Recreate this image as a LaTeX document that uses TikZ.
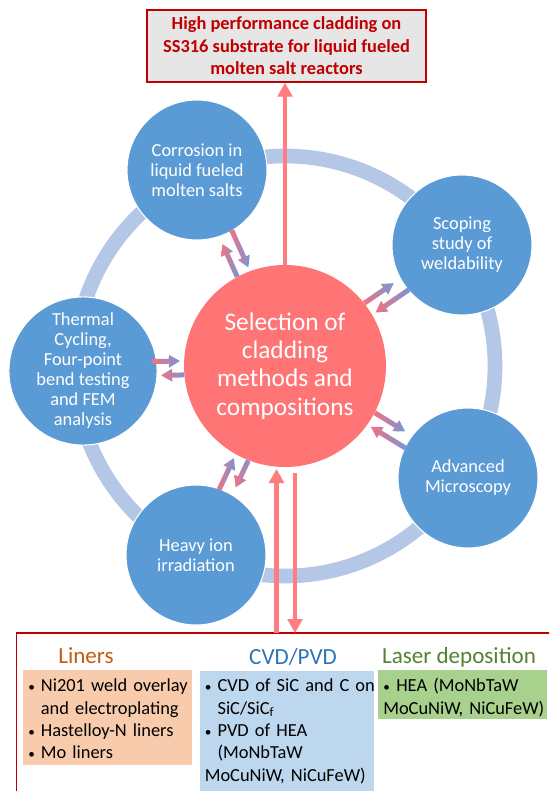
\documentclass[tikz,border=0pt]{standalone}
\usepackage{fontspec}
\usepackage{graphicx}
\setmainfont{Carlito}
\usetikzlibrary{arrows.meta,calc}
\definecolor{cred}{RGB}{255,117,117}
\definecolor{cblue}{RGB}{91,155,213}
\definecolor{cring}{RGB}{180,199,231}
\definecolor{carr}{RGB}{255,124,128}
\definecolor{apink}{RGB}{242,114,130}
\definecolor{ablue}{RGB}{118,150,216}
\definecolor{dred}{RGB}{192,0,0}
\definecolor{tgray}{RGB}{231,230,230}
\definecolor{borange}{RGB}{248,203,173}
\definecolor{bblue}{RGB}{189,215,238}
\definecolor{bgreen}{RGB}{169,209,142}
\definecolor{torange}{RGB}{197,90,17}
\definecolor{tblue}{RGB}{46,117,182}
\definecolor{tgreen}{RGB}{84,130,53}
\newcommand\bul[1]{\makebox[#1][l]{\raisebox{0.05ex}{\scalebox{0.72}{•}}}}
\tikzset{
  bluenode/.style={circle, fill=cblue, draw=white, line width=0.8pt, minimum size=105pt,
    inner sep=0pt, align=center, text=white, font={\fontsize{13.8}{15}\selectfont}},
  rednode/.style={circle, fill=cred, minimum size=151.5pt, inner sep=0pt, align=center,
    text=white, font={\fontsize{19}{21.3}\selectfont}},
  ringline/.style={cring, line width=11pt},
  vconn/.style={carr, line width=3.6pt, -{Triangle[length=10.5pt,width=11pt]}},
  gradarr/.style={left color=apink, right color=ablue, draw=none},
  topbox/.style={draw=dred, fill=tgray, line width=1.1pt, minimum width=209pt, minimum height=54pt,
    inner sep=0pt, text=dred, align=center, font={\bfseries\fontsize{13.8}{16.9}\selectfont}},
  panelline/.style={draw=dred, line width=1.1pt},
  boxtext/.style={anchor=base west, inner sep=0pt, align=left, text width=150pt,
    font={\fontsize{13.8}{16.8}\selectfont}},
  header/.style={anchor=base, inner sep=0pt, font={\fontsize{17.3}{20}\selectfont}}
}
\newcommand\twoarrows[2]{%
  \begin{scope}[shift={(sel.center)}, rotate=#1]
    \shade[gradarr] (101,4.5) -- ({#2-89},4.5) -- ({#2-89},0.5) -- ({#2-78},7) -- ({#2-89},13.5) -- ({#2-89},9.5) -- (101,9.5) -- cycle;
    \shade[gradarr] ({#2-69},-4.5) -- (116,-4.5) -- (116,-0.5) -- (105,-7) -- (116,-13.5) -- (116,-9.5) -- ({#2-69},-9.5) -- cycle;
  \end{scope}}
\begin{document}
\begin{tikzpicture}[x=0.75pt,y=0.75pt]
\useasboundingbox (0,0) rectangle (549,-791);
\clip (0,0) rectangle (549,-791);
\fill[white] (0,0) rectangle (549,-791);

% ring
\coordinate (rc) at (285,-366);
\draw[ringline] (rc) circle (210);

% satellite circles
\node[bluenode] (corr) at (197,-170) {Corrosion in\\liquid fueled\\molten salts};
\node[bluenode] (scop) at (462,-245) {Scoping\\study of\\weldability};
\node[bluenode] (therm) at (83,-371) {Thermal\\Cycling,\\Four-point\\bend testing\\and FEM\\analysis};
\node[bluenode] (adv) at (468,-478) {Advanced\\Microscopy};
\node[bluenode] (heavy) at (196,-555) {Heavy ion\\irradiation};

% centre
\node[rednode] (sel) at (285,-366) {Selection of\\cladding\\methods and\\compositions};

% arrow pairs
\twoarrows{114.2}{214.8}
\twoarrows{34.4}{214.4}
\twoarrows{181.1}{202}
\twoarrows{-31.5}{214.6}
\twoarrows{-115.2}{208.9}

% top goal
\node[topbox] (goal) at (286.5,-46) {High performance cladding on\\SS316 substrate for liquid fueled\\molten salt reactors};
\draw[vconn] (sel.north) -- (sel.north |- goal.south);

% bottom panel
\draw[panelline] (16.5,-830) -- (16.5,-633) -- (600,-633);
\coordinate (u1) at (276.5,-633);
\coordinate (u2) at (276.5,-469);
\coordinate (d1) at (295,-473);
\coordinate (d2) at (295,-633);
\draw[vconn] (u1) -- (u2);
\draw[vconn] (d1) -- (d2);

\fill[borange] (23,-670) rectangle (191.7,-765);
\fill[bblue] (200,-670.7) rectangle (374,-800);
\fill[bgreen] (378.3,-670) rectangle (546.7,-719.3);

\node[header, text=torange] (hl) at (86,-663) {Liners};
\node[header, text=tblue] (hc) at (293,-664.3) {CVD/PVD};
\node[header, text=tgreen] (hg) at (459,-663.3) {Laser deposition};

\node[boxtext] (tl) at (28,-691.7) {\bul{9.5pt}Ni201 weld overlay\\\hspace*{9.5pt}and electroplating\\\bul{9.5pt}Hastelloy-N liners\\\bul{9.5pt}Mo liners};
\node[boxtext] (tc) at (204.5,-691.7) {\bul{9.6pt}CVD of SiC and C on\\\hspace*{9.6pt}SiC/SiC\textsubscript{f}\\\bul{9.6pt}PVD of HEA\\\hspace*{9.6pt}(MoNbTaW\\MoCuNiW, NiCuFeW)};
\node[boxtext] (tg) at (383,-691.7) {\bul{9.75pt}HEA (MoNbTaW\\MoCuNiW, NiCuFeW)};
\end{tikzpicture}
\end{document}
